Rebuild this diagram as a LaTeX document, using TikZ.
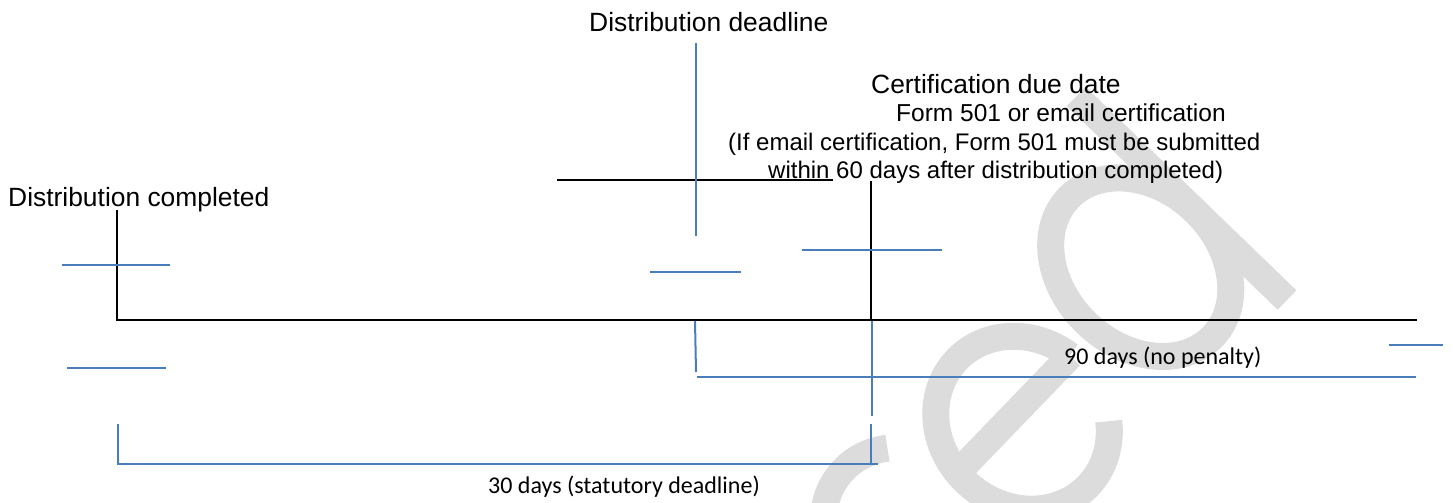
\documentclass[tikz,border=0pt]{standalone}
\usepackage{fontspec}
\setmainfont{Liberation Sans}
\newfontfamily\carlito{Carlito}
\definecolor{lineblue}{RGB}{74,126,187}
\definecolor{wmgray}{RGB}{220,220,220}
\begin{document}
\begin{tikzpicture}[x=1pt,y=-1pt,
  blk/.style={draw=black,line width=2pt},
  blu/.style={draw=lineblue,line width=2pt},
  title/.style={anchor=base west,inner sep=0pt,font=\fontsize{26.4}{30}\selectfont},
  sub/.style={anchor=base west,inner sep=0pt,font=\fontsize{24}{28}\selectfont},
  dur/.style={anchor=base west,inner sep=0pt,font=\carlito\fontsize{24}{28}\selectfont},
  wm/.style={draw=wmgray,line width=27pt}]
\useasboundingbox (0,0) rectangle (1453,503);
% watermark
\begin{scope}
\clip (0,0) rectangle (1453,503);
\begin{scope}[shift={(1287,300)},rotate=46,x=1pt,y=1pt]
  \draw[wm] (0,0) -- (0,293);
  \draw[wm] (-78,128) ellipse [x radius=78,y radius=100];
  \draw[wm] (-354,117) -- (-191,117);
  \draw[wm] (-272,105) ++(8:82 and 91) arc[start angle=8,end angle=318,x radius=82,y radius=91];
  \draw[wm] (-430,110) ++(55:80 and 91) arc[start angle=55,end angle=230,x radius=80,y radius=91];
\end{scope}
\end{scope}
% coordinates
\coordinate (ulA) at (557,180);  \coordinate (ulB) at (833,180);
\coordinate (cdTop) at (871,181); \coordinate (cdBot) at (871,320);
\coordinate (dcTop) at (117,210); \coordinate (axL) at (117,320); \coordinate (axR) at (1417,320);
\coordinate (ddTop) at (695.5,43); \coordinate (ddBot) at (695.5,236);
\coordinate (t1a) at (62,265);  \coordinate (t1b) at (170,265);
\coordinate (t2a) at (650,272); \coordinate (t2b) at (741,272);
\coordinate (t3a) at (802,250); \coordinate (t3b) at (942,250);
\coordinate (t4a) at (67,368);  \coordinate (t4b) at (166,368);
\coordinate (t5a) at (1389,345); \coordinate (t5b) at (1443,345);
\coordinate (n1) at (695,321); \coordinate (n2) at (696,372);
\coordinate (n3) at (697,377); \coordinate (n4) at (1416,377);
\coordinate (v1) at (872,321); \coordinate (v2) at (872,416);
\coordinate (v3) at (871,424); \coordinate (v4) at (871,464);
\coordinate (s1) at (118,424); \coordinate (s2) at (118,464); \coordinate (s3) at (878,464);
% black lines
\draw[blk] (ulA) -- (ulB);
\draw[blk] (cdTop) -- (cdBot);
\draw[blk] (dcTop) -- (axL) -- (axR);
% blue lines
\draw[blu] (ddTop) -- (ddBot);
\draw[blu] (t1a) -- (t1b);
\draw[blu] (t2a) -- (t2b);
\draw[blu] (t3a) -- (t3b);
\draw[blu] (t4a) -- (t4b);
\draw[blu] (t5a) -- (t5b);
\draw[blu] (n1) -- (n2);
\draw[blu] (n3) -- (n4);
\draw[blu] (v1) -- (v2);
\draw[blu] (v3) -- (v4);
\draw[blu] (s1) -- (s2) -- (s3);
% texts
\node[title] (ddl) at (589,31.5) {Distribution deadline};
\node[title] (dcl) at (8,206.7) {Distribution completed};
\node[title] (cdl) at (871,93) {Certification due date};
\node[sub,font=\fontsize{24.5}{28}\selectfont] (f1) at (896,121.5) {Form 501 or email certification};
\node[sub] (f2) at (728,150) {(If email certification, Form 501 must be submitted};
\node[sub] (f3) at (768,178) {within 60 days after distribution completed)};
\node[dur] (d90) at (1064,364) {90 days (no penalty)};
\node[dur] (d30) at (488,493) {30 days (statutory deadline)};
\end{tikzpicture}
\end{document}
